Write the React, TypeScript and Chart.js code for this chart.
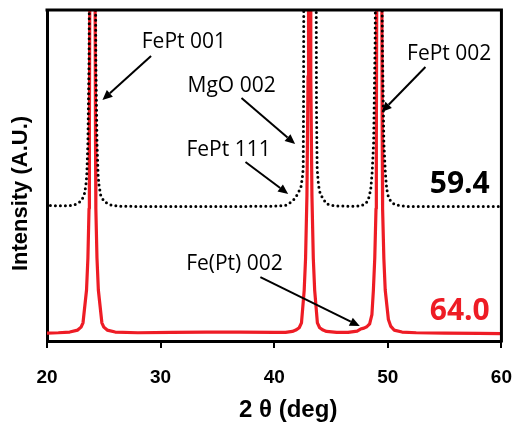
import React, { useEffect, useRef } from "react";
import { Chart, registerables } from "chart.js";

Chart.register(...registerables);

// ---- data (2θ in degrees, intensity in arbitrary units, axis 0..100) ----
const xTickValues = [20, 30, 40, 50, 60];

// red trace, sample "64.0"
const redTheta = [
  20, 21, 22, 22.7, 23.0, 23.17, 23.48, 23.6, 23.7, 23.73, 24.0, 24.27, 24.3, 24.4, 24.52, 24.83, 25.0, 25.3, 26.0,
  28, 31, 34, 37, 40,
  41.0, 41.6, 41.9, 42.2, 42.4, 42.64, 42.76, 42.88, 42.98, 43.02, 43.1, 43.18, 43.22, 43.32, 43.44, 43.56, 43.8, 44.0, 44.3, 44.6,
  45.5, 46.5, 47.3, 47.6, 47.9, 48.15, 48.4, 48.6,
  48.73, 48.85, 48.96, 48.99, 49.25, 49.51, 49.54, 49.65, 49.77, 50.05, 50.25, 50.55, 51.25,
  52.5, 55, 58, 60,
];
const redIntensity = [
  2.4, 2.5, 2.7, 3.3, 4.2, 5.5, 15.4, 25, 40, 60, 400, 60, 40, 25, 15.4, 5.5, 4.2, 3.3, 2.7,
  2.5, 2.6, 2.7, 2.7, 2.6,
  2.6, 2.9, 3.3, 4.0, 5.5, 15.4, 25, 44, 80, 100, 400, 100, 80, 44, 25, 15.4, 5.5, 4.0, 3.3, 2.9,
  2.6, 2.6, 3.0, 3.6, 3.9, 4.3, 5.2, 8,
  15.4, 25, 40, 60, 400, 60, 40, 25, 15.4, 6.5, 4.5, 3.3, 2.7,
  2.5, 2.4, 2.3, 2.2,
];

// dotted trace, sample "59.4"
const dotTheta = [
  20.3, 21.5, 22.3, 22.7, 23.0, 23.27, 23.42, 23.5, 23.6, 23.7, 23.72, 23.73, 24.0, 24.27, 24.28, 24.3, 24.4, 24.5, 24.58, 24.73, 25.0, 25.3, 25.7, 26.5,
  30, 35, 39, 40.5,
  41.0, 41.5, 41.85, 42.1, 42.35, 42.48, 42.55, 42.58, 42.6, 42.61, 43.15, 43.69, 43.7, 43.72, 43.78, 43.9, 44.05, 44.3, 44.6, 45.0, 45.6,
  46.5, 47.6, 47.95, 48.15, 48.35, 48.5, 48.62, 48.75, 48.88, 48.9, 48.91, 49.2, 49.49, 49.5, 49.52, 49.65, 49.78, 49.9, 50.05, 50.3, 50.6, 51.0,
  52.0, 56, 60,
];
const dotIntensity = [
  40.9, 40.8, 41.0, 41.6, 42.3, 44, 47, 50, 60, 85, 100, 130, 400, 130, 100, 85, 60, 50, 47, 44, 42.3, 41.6, 41.0, 40.7,
  40.6, 40.6, 40.7, 40.8,
  41.0, 42.0, 43.2, 44.7, 46.5, 49.5, 52, 70, 100, 130, 400, 130, 100, 70, 52, 47, 44.5, 43, 41.5, 41.0, 40.8,
  40.7, 40.8, 41.3, 42.0, 43.5, 46, 51, 60, 90, 100, 130, 400, 130, 100, 90, 60, 51, 46, 43.5, 42.0, 41.3, 40.9,
  40.6, 40.6, 40.6,
];

// annotations (data coordinates)
const peakLabels = ["FePt 001", "MgO 002", "FePt 002", "FePt 111", "Fe(Pt) 002"];
const peakLabelAt = [
  [32.05, 90.3],
  [36.25, 77.0],
  [55.4, 86.7],
  [35.98, 57.7],
  [36.5, 23.3],
];
const arrowFrom = [
  [29.16, 86.1],
  [37.12, 73.4],
  [53.31, 82.8],
  [37.47, 54.1],
  [38.78, 19.3],
];
const arrowTo = [
  [24.88, 72.8],
  [41.84, 59.5],
  [49.46, 69.2],
  [41.23, 44.4],
  [47.53, 4.5],
];
const sampleNames = ["59.4", "64.0"];
const sampleAt = [
  [56.33, 47.4],
  [56.33, 8.8],
];

const RED = "#ee1c25";
const xTitle = "2 θ (deg)";
const yTitle = "Intensity (A.U.)";

const overlay = {
  id: "overlay",
  afterDraw(chart: any) {
    const { ctx, chartArea } = chart;
    const xs = chart.scales.x;
    const ys = chart.scales.y;
    const px = (v: number) => xs.getPixelForValue(v);
    const py = (v: number) => ys.getPixelForValue(v);
    ctx.save();
    // top and right frame
    ctx.strokeStyle = "#000";
    ctx.lineWidth = 3;
    ctx.beginPath();
    ctx.moveTo(chartArea.left - 1.5, chartArea.top);
    ctx.lineTo(chartArea.right, chartArea.top);
    ctx.lineTo(chartArea.right, chartArea.bottom + 1.5);
    ctx.stroke();

    ctx.fillStyle = "#000";
    ctx.textAlign = "center";
    ctx.textBaseline = "middle";
    ctx.font = '21px "Open Sans"';
    peakLabels.forEach((t, i) => ctx.fillText(t, px(peakLabelAt[i][0]), py(peakLabelAt[i][1])));

    ctx.lineWidth = 2;
    arrowFrom.forEach((f, i) => {
      const x1 = px(f[0]);
      const y1 = py(f[1]);
      const x2 = px(arrowTo[i][0]);
      const y2 = py(arrowTo[i][1]);
      const a = Math.atan2(y2 - y1, x2 - x1);
      const hl = 10;
      const hw = 4.5;
      const bx = x2 - hl * Math.cos(a);
      const by = y2 - hl * Math.sin(a);
      ctx.beginPath();
      ctx.moveTo(x1, y1);
      ctx.lineTo(bx, by);
      ctx.stroke();
      ctx.beginPath();
      ctx.moveTo(x2, y2);
      ctx.lineTo(bx - hw * Math.sin(a), by + hw * Math.cos(a));
      ctx.lineTo(bx + hw * Math.sin(a), by - hw * Math.cos(a));
      ctx.closePath();
      ctx.fill();
    });

    ctx.font = 'bold 30px "Open Sans"';
    sampleNames.forEach((t, i) => {
      ctx.fillStyle = i === 0 ? "#000" : RED;
      ctx.fillText(t, px(sampleAt[i][0]), py(sampleAt[i][1]));
    });

    ctx.fillStyle = "#000";
    ctx.font = 'bold 24px "Liberation Sans"';
    ctx.fillText(xTitle, (chartArea.left + chartArea.right) / 2 + 14, 410);
    ctx.font = 'bold 22px "Liberation Sans"';
    ctx.save();
    ctx.translate(21, (chartArea.top + chartArea.bottom) / 2 + 18);
    ctx.rotate(-Math.PI / 2);
    ctx.fillText(yTitle, 0, 0);
    ctx.restore();
    ctx.restore();
  },
};

export default function App() {
  const ref = useRef<HTMLCanvasElement | null>(null);
  useEffect(() => {
    if (!ref.current) return;
    const chart = new Chart(ref.current, {
      type: "line",
      data: {
        datasets: [
          {
            label: "59.4",
            data: dotTheta.map((x, i) => ({ x, y: dotIntensity[i] })),
            borderColor: "#000",
            borderWidth: 3,
            borderDash: [0, 5],
            borderCapStyle: "round",
            pointRadius: 0,
            tension: 0,
            clip: 0,
          },
          {
            label: "64.0",
            data: redTheta.map((x, i) => ({ x, y: redIntensity[i] })),
            borderColor: RED,
            borderWidth: 3.2,
            borderJoinStyle: "round",
            pointRadius: 0,
            tension: 0,
            clip: 0,
          },
        ],
      },
      options: {
        responsive: false,
        animation: false,
        devicePixelRatio: 1,
        layout: { padding: { top: 10, right: 25, left: 0, bottom: 0 } },
        plugins: { legend: { display: false }, tooltip: { enabled: false } },
        scales: {
          x: {
            type: "linear",
            position: "bottom",
            min: 20,
            max: 60,
            afterBuildTicks: (s: any) => {
              s.ticks = xTickValues.map((v) => ({ value: v }));
            },
            ticks: {
              color: "#000",
              padding: 18,
              font: { family: '"Liberation Sans", Arial', size: 19, weight: "bold" },
            },
            grid: { drawOnChartArea: false, drawTicks: true, tickLength: 7, color: "#000", lineWidth: 2 },
            border: { display: true, color: "#000", width: 3 },
            afterFit: (s: any) => {
              s.height = 86;
            },
          },
          y: {
            type: "linear",
            position: "left",
            min: 0,
            max: 100,
            ticks: { display: false },
            grid: { display: false },
            border: { display: true, color: "#000", width: 3 },
            afterFit: (s: any) => {
              s.width = 47;
            },
          },
        },
      },
      plugins: [overlay],
    } as any);
    return () => chart.destroy();
  }, []);
  return (
    <div style={{ position: "fixed", left: 0, top: 0, width: 530, height: 427, background: "#fff" }}>
      <canvas ref={ref} width={530} height={427} style={{ display: "block" }} />
    </div>
  );
}
